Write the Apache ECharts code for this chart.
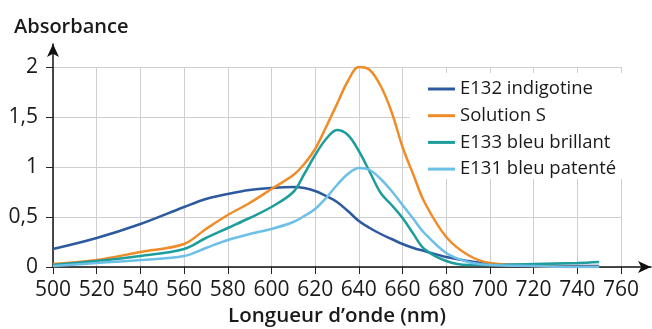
<!DOCTYPE html>
<html>
<head>
<meta charset="utf-8">
<script src="https://cdn.jsdelivr.net/npm/echarts@6/dist/echarts.min.js"></script>
<style>
html,body{margin:0;padding:0;background:#fff;}
#chart{width:652px;height:329px;}
</style>
</head>
<body>
<div id="chart"></div>
<script>
// Wavelengths (nm) shared by all series
const wavelengths = [500,520,540,560,570,580,590,600,610,615,620,625,630,635,640,645,650,655,660,665,670,680,690,700,720,740,750];
// Absorbance values
const e132Indigotine = [0.18,0.29,0.43,0.60,0.68,0.73,0.77,0.79,0.80,0.79,0.76,0.71,0.65,0.56,0.46,0.39,0.33,0.28,0.23,0.19,0.16,0.10,0.06,0.03,0.02,0.01,0.01];
const solutionS      = [0.03,0.07,0.15,0.23,0.38,0.52,0.64,0.78,0.92,1.03,1.18,1.40,1.63,1.86,2.00,1.97,1.81,1.55,1.20,0.92,0.65,0.30,0.12,0.04,0.01,0.00,0.00];
const e133Brillant   = [0.02,0.06,0.11,0.18,0.29,0.39,0.49,0.60,0.75,0.93,1.12,1.28,1.37,1.32,1.16,0.95,0.74,0.62,0.49,0.33,0.18,0.06,0.02,0.02,0.03,0.04,0.05];
const e131Patente    = [0.01,0.04,0.07,0.11,0.19,0.27,0.33,0.38,0.45,0.51,0.58,0.69,0.82,0.93,0.99,0.97,0.88,0.76,0.62,0.48,0.34,0.14,0.05,0.02,0.01,0.00,0.00];
const seriesNames = ['E132 indigotine','Solution S','E133 bleu brillant','E131 bleu patenté'];
const seriesColors = ['#2d5a9e','#f08c28','#1d9d9b','#6cbfe6'];
const xTicks = {min:500, max:760, step:20};
const yTicks = {min:0, max:2, step:0.5};

const allValues = [e132Indigotine, solutionS, e133Brillant, e131Patente];
const font = '"Open Sans", sans-serif';

const chart = echarts.init(document.getElementById('chart'), null, {renderer:'canvas'});
chart.setOption({
  backgroundColor:'#fff',
  animation:false,
  textStyle:{fontFamily:font},
  title:{
    text:'Absorbance', left:9, top:12,
    textStyle:{fontFamily:font, fontSize:20, fontWeight:600, color:'#1a1a1a'}
  },
  legend:{
    data:seriesNames,
    orient:'vertical',
    left:410, top:73,
    padding:[6,8,0,18],
    backgroundColor:'#fff',
    itemWidth:27, itemHeight:14, itemGap:6.7,
    textStyle:{fontFamily:font, fontSize:18.5, color:'#1a1a1a', lineHeight:20},
    icon:'path://M0,6 L27,6 L27,9 L0,9 Z'
  },
  grid:[
    {left:53, right:31, top:67, bottom:62, containLabel:false, outerBoundsMode:'none'},
    {left:53, right:1, top:44, bottom:62, containLabel:false, outerBoundsMode:'none'}
  ],
  xAxis:[
    {
      gridIndex:0, type:'value', min:xTicks.min, max:xTicks.max, interval:xTicks.step,
      axisLine:{show:false},
      axisTick:{show:true, length:7, lineStyle:{color:'#222', width:1}},
      axisLabel:{fontFamily:font, fontSize:21, color:'#1a1a1a', margin:13},
      splitLine:{show:true, lineStyle:{color:'#cfcfcf', width:1}},
      name:'Longueur d’onde (nm)', nameLocation:'middle', nameGap:39,
      nameTextStyle:{fontFamily:font, fontSize:20.5, fontWeight:600, color:'#1a1a1a'}
    },
    {
      gridIndex:1, type:'value', min:0, max:1,
      axisLine:{show:true, symbol:['none','arrow'], symbolSize:[9,13], lineStyle:{color:'#111', width:1.5}},
      axisTick:{show:false}, axisLabel:{show:false}, splitLine:{show:false}
    }
  ],
  yAxis:[
    {
      gridIndex:0, type:'value', min:yTicks.min, max:yTicks.max, interval:yTicks.step,
      axisLine:{show:false},
      axisTick:{show:true, length:7, lineStyle:{color:'#222', width:1}},
      axisLabel:{fontFamily:font, fontSize:21, color:'#1a1a1a', margin:15,
        formatter:v => String(v).replace('.', ',')},
      splitLine:{show:true, lineStyle:{color:'#cfcfcf', width:1}}
    },
    {
      gridIndex:1, type:'value', min:0, max:1,
      axisLine:{show:true, symbol:['none','arrow'], symbolSize:[9,13], lineStyle:{color:'#111', width:1.5}},
      axisTick:{show:false}, axisLabel:{show:false}, splitLine:{show:false}
    }
  ],
  series: seriesNames.map((name,i)=>({
    name, type:'line', xAxisIndex:0, yAxisIndex:0,
    data: wavelengths.map((w,j)=>[w, allValues[i][j]]),
    symbol:'none', smooth:0.35,
    lineStyle:{color:seriesColors[i], width:2.5},
    itemStyle:{color:seriesColors[i]},
    z: 6
  }))
});
</script>
</body>
</html>
